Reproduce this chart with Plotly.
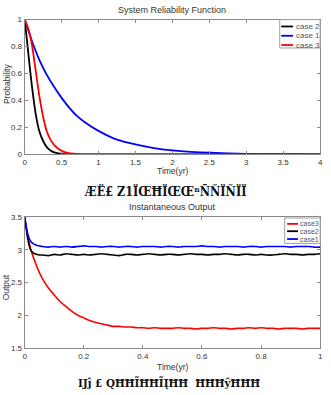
import plotly.graph_objects as go

# ---------------- data: System Reliability Function ----------------
t_black = [0, 0.025, 0.05, 0.075, 0.1, 0.15, 0.2, 0.25, 0.3, 0.35, 0.4, 0.5, 0.6, 0.8, 1.0, 2.0, 3.0, 4.0]
r_case2 = [1.0, 0.88, 0.75, 0.62, 0.50, 0.30, 0.17, 0.10, 0.055, 0.03, 0.015, 0.004, 0.001, 0.0, 0.0, 0.0, 0.0, 0.0]

t_blue = [0, 0.1, 0.2, 0.3, 0.4, 0.5, 0.6, 0.7, 0.8, 1.0, 1.25, 1.5, 1.75, 2.0, 2.25, 2.5, 3.0, 3.5, 4.0]
r_case1 = [1.0, 0.84, 0.70, 0.59, 0.50, 0.42, 0.35, 0.29, 0.245, 0.175, 0.11, 0.075, 0.048, 0.031, 0.02, 0.013, 0.005, 0.002, 0.001]

t_red = [0, 0.025, 0.05, 0.075, 0.1, 0.15, 0.2, 0.25, 0.3, 0.35, 0.4, 0.5, 0.6, 0.7, 0.8, 1.0, 2.0, 3.0, 4.0]
r_case3 = [1.0, 0.97, 0.93, 0.88, 0.81, 0.62, 0.43, 0.28, 0.17, 0.11, 0.07, 0.027, 0.01, 0.004, 0.001, 0.0, 0.0, 0.0, 0.0]

# ---------------- data: Instantaneous Output ----------------
t_out = [0, 0.01, 0.02, 0.03, 0.04, 0.05, 0.06, 0.08, 0.10, 0.12,
         0.14, 0.16, 0.18, 0.20, 0.22, 0.24, 0.26, 0.28, 0.30, 0.32,
         0.34, 0.36, 0.38, 0.40, 0.42, 0.44, 0.46, 0.48, 0.50, 0.52,
         0.54, 0.56, 0.58, 0.60, 0.62, 0.64, 0.66, 0.68, 0.70, 0.72,
         0.74, 0.76, 0.78, 0.80, 0.82, 0.84, 0.86, 0.88, 0.90, 0.92,
         0.94, 0.96, 0.98, 1.00]
out_case3 = [3.50, 3.22, 3.02, 2.88, 2.76, 2.65, 2.56, 2.42, 2.31, 2.21,
             2.13, 2.06, 2.00, 1.96, 1.92, 1.89, 1.87, 1.85, 1.83, 1.83,
             1.82, 1.82, 1.81, 1.81, 1.80, 1.81, 1.80, 1.80, 1.80, 1.81,
             1.80, 1.80, 1.79, 1.80, 1.80, 1.81, 1.80, 1.80, 1.79, 1.80,
             1.80, 1.81, 1.80, 1.81, 1.80, 1.80, 1.79, 1.80, 1.80, 1.80,
             1.79, 1.80, 1.80, 1.80]
out_case2 = [3.50, 3.18, 3.00, 2.95, 2.93, 2.92, 2.92, 2.91, 2.93, 2.92,
             2.94, 2.93, 2.92, 2.93, 2.92, 2.93, 2.94, 2.93, 2.92, 2.91,
             2.93, 2.93, 2.92, 2.93, 2.94, 2.93, 2.92, 2.93, 2.93, 2.92,
             2.93, 2.94, 2.93, 2.93, 2.92, 2.93, 2.93, 2.94, 2.93, 2.92,
             2.93, 2.93, 2.92, 2.93, 2.92, 2.92, 2.93, 2.94, 2.93, 2.93,
             2.92, 2.93, 2.93, 2.94]
out_case1 = [3.50, 3.25, 3.13, 3.09, 3.07, 3.06, 3.05, 3.04, 3.05, 3.04,
             3.05, 3.04, 3.05, 3.06, 3.05, 3.05, 3.04, 3.05, 3.05, 3.04,
             3.05, 3.05, 3.04, 3.05, 3.05, 3.05, 3.04, 3.05, 3.05, 3.04,
             3.05, 3.05, 3.05, 3.06, 3.05, 3.05, 3.04, 3.05, 3.05, 3.05,
             3.04, 3.05, 3.05, 3.04, 3.05, 3.05, 3.05, 3.05, 3.04, 3.05,
             3.05, 3.05, 3.04, 3.04]

top_xticks = [0, 0.5, 1, 1.5, 2, 2.5, 3, 3.5, 4]
top_yticks = [0, 0.2, 0.4, 0.6, 0.8, 1]
bot_xticks = [0, 0.2, 0.4, 0.6, 0.8, 1]
bot_yticks = [1.5, 2, 2.5, 3, 3.5]

W, H = 331, 395
FONT = "Liberation Sans, Arial, sans-serif"
BLACK, BLUE, RED = "#000000", "#0000ff", "#ff0000"

top_series = [("case 2", t_black, r_case2, BLACK), ("case 1", t_blue, r_case1, BLUE),
              ("case 3", t_red, r_case3, RED)]
bot_series = [("case3", out_case3, RED), ("case2", out_case2, BLACK), ("case1", out_case1, BLUE)]

fig = go.Figure()
for name, tx, ty, col in top_series:
    fig.add_trace(go.Scatter(x=tx, y=ty, name=name, mode="lines", showlegend=False,
                             line=dict(color=col, width=1.8, shape="spline", smoothing=0.6),
                             xaxis="x", yaxis="y"))
for name, vy, col in bot_series:
    fig.add_trace(go.Scatter(x=t_out, y=vy, name=name, mode="lines", showlegend=False,
                             line=dict(color=col, width=1.6, shape="spline", smoothing=0.5),
                             xaxis="x2", yaxis="y2"))

xdom = [23 / W, 323 / W]
ytop = [1 - 154 / H, 1 - 16 / H]
ybot = [1 - 352 / H, 1 - 218 / H]

axis_common = dict(showgrid=False, zeroline=False, showline=True, linecolor="#8a8a8a",
                   linewidth=1, mirror="ticks", ticks="inside", ticklen=3,
                   tickcolor="#8a8a8a", tickfont=dict(family=FONT, size=8, color="#333333"))

fig.update_layout(
    width=W, height=H, margin=dict(l=0, r=0, t=0, b=0),
    paper_bgcolor="white", plot_bgcolor="white",
    font=dict(family=FONT, size=9, color="#333333"),
    xaxis=dict(domain=xdom, range=[0, 4], tickvals=top_xticks, anchor="y", **axis_common),
    yaxis=dict(domain=ytop, range=[0, 1], tickvals=top_yticks, anchor="x", **axis_common),
    xaxis2=dict(domain=xdom, range=[0, 1], tickvals=bot_xticks, anchor="y2", **axis_common),
    yaxis2=dict(domain=ybot, range=[1.5, 3.5], tickvals=bot_yticks, anchor="x2", **axis_common),
    showlegend=False,
)

ann = []
shapes = []
def text(x, y, s, size=9, angle=0, family=FONT, color="#333333", xanchor="center"):
    ann.append(dict(x=x / W, y=1 - y / H, xref="paper", yref="paper", text=s,
                    showarrow=False, textangle=angle, xanchor=xanchor, yanchor="middle",
                    font=dict(family=family, size=size, color=color)))

def legend_box(x0, y0, x1, y1, entries, lx0, lx1, ys, size):
    shapes.append(dict(type="rect", xref="paper", yref="paper",
                       x0=x0 / W, x1=x1 / W, y0=1 - y1 / H, y1=1 - y0 / H,
                       line=dict(color="#a0a0a0", width=1), fillcolor="white", layer="above"))
    for (name, col), yy in zip(entries, ys):
        shapes.append(dict(type="line", xref="paper", yref="paper",
                           x0=lx0 / W, x1=lx1 / W, y0=1 - yy / H, y1=1 - yy / H,
                           line=dict(color=col, width=1.8), layer="above"))
        text(lx1 + 0.5, yy, name, size=size, color="#555555", xanchor="left")

text(173, 6, "System Reliability Function", size=9)
text(173, 171, "Time(yr)", size=8.5)
text(5, 82, "Probability", size=8.5, angle=-90)
text(166, 192, "<b>ÆË£ Z1ÏŒĦÏŒŒⁿÑŇÏŇÏÏ</b>", size=12.5, family="DejaVu Serif Condensed, serif", color="#111111")

text(173, 208, "Instantaneous Output", size=9)
text(173, 371, "Time(yr)", size=8.5)
text(4, 290, "Output", size=8.5, angle=-90)
text(170, 388, "<b>Ĳĵ £ QĦĦĨĦĦĨĮĦĦ  ĦĦĦŷĦĦĦ</b>", size=11.5, family="DejaVu Serif Condensed, serif", color="#111111")

legend_box(282, 16, 323, 45, [(n, c) for n, _, _, c in top_series], 283.5, 295.5,
           [23, 32.5, 42], 8)
legend_box(287, 219, 323, 245, [(n, c) for n, _, c in bot_series], 289.5, 300.5,
           [225, 232.5, 240.5], 7)

fig.update_layout(annotations=ann, shapes=shapes)
fig.write_html("out.html")
